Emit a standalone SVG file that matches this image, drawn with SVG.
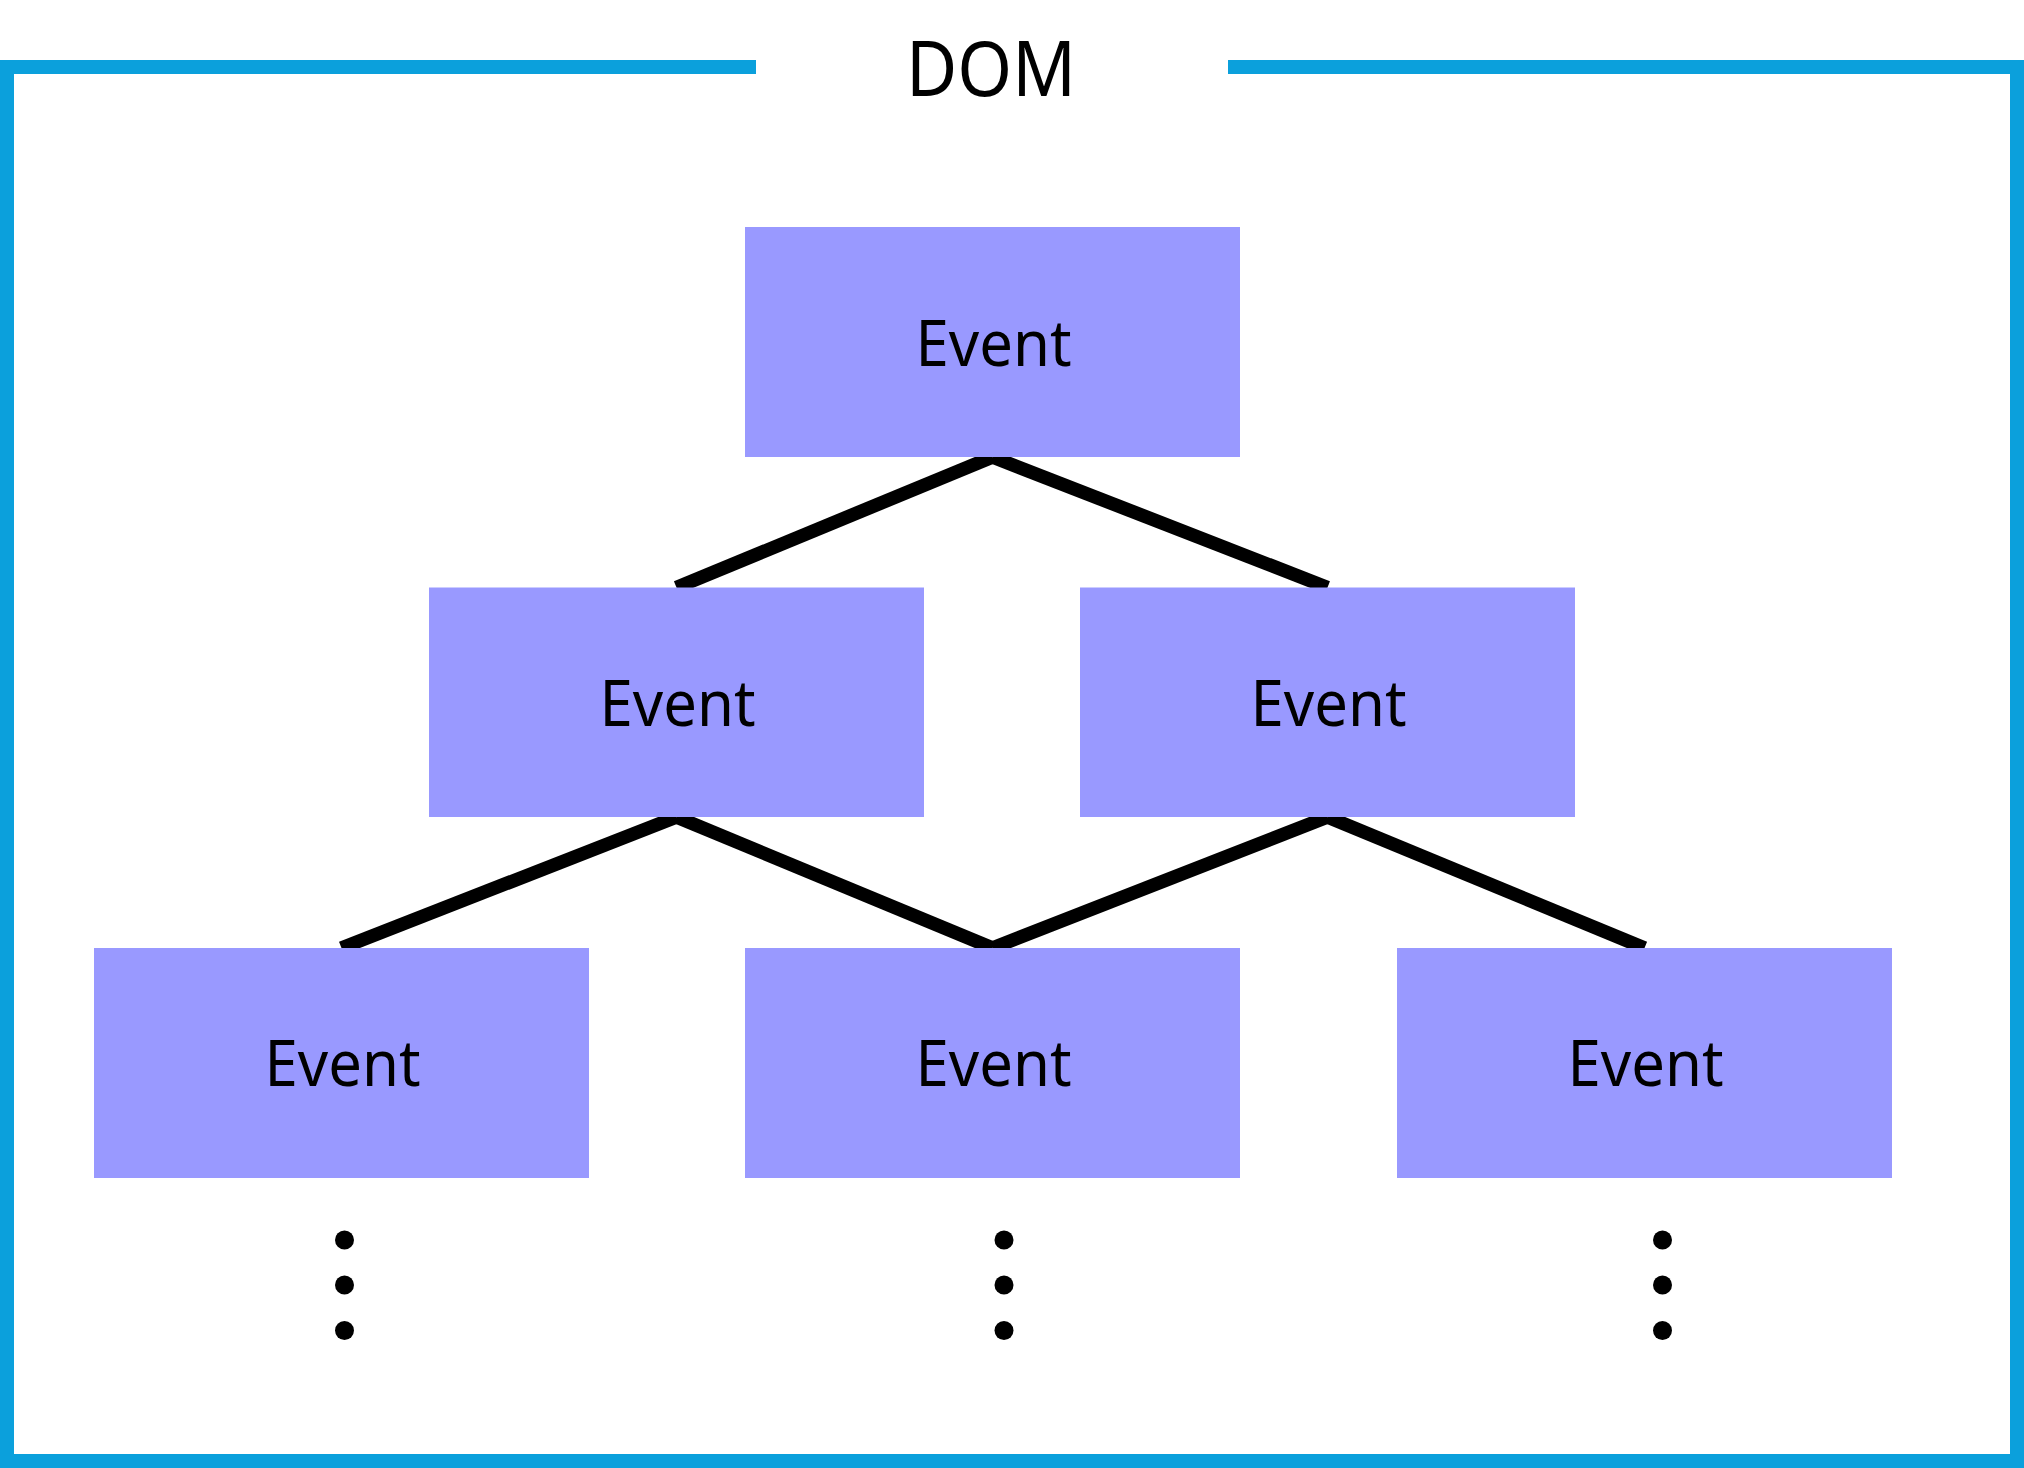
<svg xmlns="http://www.w3.org/2000/svg" width="2024" height="1468" viewBox="0 0 2024 1468">
<style>
.box{fill:#9999FF;}
.lbl{font-family:"Noto Sans","Open Sans","DejaVu Sans",sans-serif;font-size:64px;fill:#000;text-anchor:middle;}
.title{font-family:"Noto Sans","Open Sans","DejaVu Sans",sans-serif;font-size:76px;fill:#000;text-anchor:middle;}
.edge{stroke:#000;stroke-width:13.5;fill:none;stroke-linecap:butt;}
.frame{stroke:#0BA0DC;stroke-width:14;fill:none;stroke-linejoin:miter;stroke-linecap:butt;}
.dot{fill:#000;}
</style>
<rect x="0" y="0" width="2024" height="1468" fill="#FFFFFF"/>
<g id="frame">
<path class="frame" d="M756 67 H7 V1461 H2017 V67 H1228"/>
<text class="title" x="991" y="96" textLength="170" lengthAdjust="spacingAndGlyphs">DOM</text>
</g>
<g id="connectors">
<line class="edge" x1="992.5" y1="457" x2="676.5" y2="587.5"/>
<line class="edge" x1="992.5" y1="457" x2="1327.5" y2="587.5"/>
<line class="edge" x1="676.5" y1="817" x2="341.5" y2="948"/>
<line class="edge" x1="676.5" y1="817" x2="992.5" y2="948"/>
<line class="edge" x1="1327.5" y1="817" x2="992.5" y2="948"/>
<line class="edge" x1="1327.5" y1="817" x2="1644.5" y2="948"/>
</g>
<g id="node-root">
<rect class="box" x="745" y="227" width="495" height="230"/>
<text class="lbl" x="993.5" y="366" textLength="156" lengthAdjust="spacingAndGlyphs">Event</text>
</g>
<g id="node-l1">
<rect class="box" x="429" y="587.5" width="495" height="229.5"/>
<text class="lbl" x="677.5" y="726" textLength="156" lengthAdjust="spacingAndGlyphs">Event</text>
</g>
<g id="node-r1">
<rect class="box" x="1080" y="587.5" width="495" height="229.5"/>
<text class="lbl" x="1328.5" y="726" textLength="156" lengthAdjust="spacingAndGlyphs">Event</text>
</g>
<g id="node-l2">
<rect class="box" x="94" y="948" width="495" height="230"/>
<text class="lbl" x="342.5" y="1086" textLength="156" lengthAdjust="spacingAndGlyphs">Event</text>
</g>
<g id="node-m2">
<rect class="box" x="745" y="948" width="495" height="230"/>
<text class="lbl" x="993.5" y="1086" textLength="156" lengthAdjust="spacingAndGlyphs">Event</text>
</g>
<g id="node-r2">
<rect class="box" x="1397" y="948" width="495" height="230"/>
<text class="lbl" x="1645.5" y="1086" textLength="156" lengthAdjust="spacingAndGlyphs">Event</text>
</g>
<g id="ellipsis">
<circle class="dot" cx="344.5" cy="1240" r="9.5"/>
<circle class="dot" cx="344.5" cy="1285" r="9.5"/>
<circle class="dot" cx="344.5" cy="1330.5" r="9.5"/>
<circle class="dot" cx="1004" cy="1240" r="9.5"/>
<circle class="dot" cx="1004" cy="1285" r="9.5"/>
<circle class="dot" cx="1004" cy="1330.5" r="9.5"/>
<circle class="dot" cx="1662.5" cy="1240" r="9.5"/>
<circle class="dot" cx="1662.5" cy="1285" r="9.5"/>
<circle class="dot" cx="1662.5" cy="1330.5" r="9.5"/>
</g>
</svg>
